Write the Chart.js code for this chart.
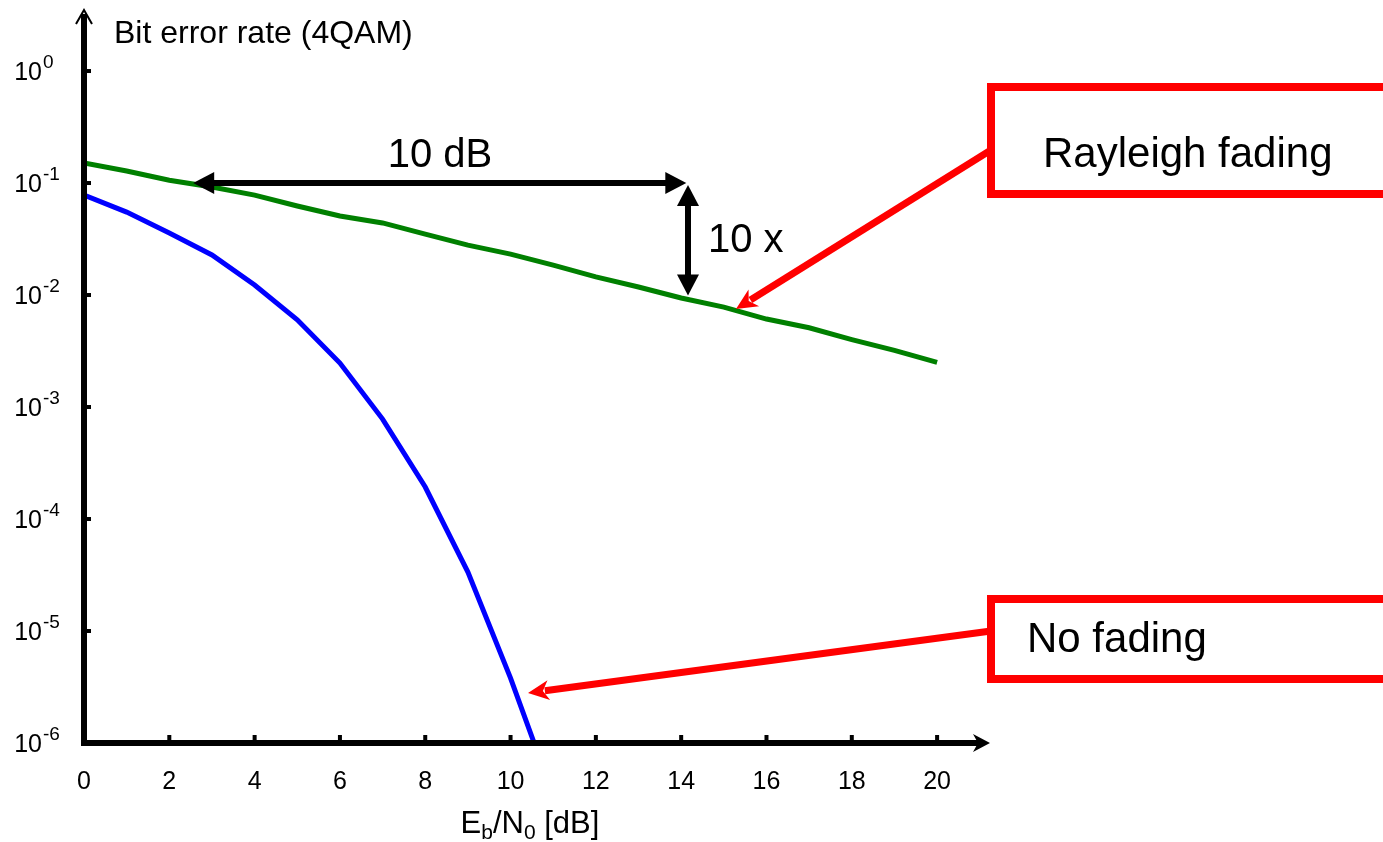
<!DOCTYPE html>
<html>
<head>
<meta charset="utf-8">
<script src="https://cdn.jsdelivr.net/npm/chart.js@4.4.1/dist/chart.umd.min.js"></script>
<style>
    html, body { margin: 0; padding: 0; background: #fff; }
    #wrap { width: 1383px; height: 842px; position: relative; }
</style>
</head>
<body>
<div id="wrap"><canvas id="berChart"></canvas></div>
<script>
// Eb/N0 in dB
const snrDb = [0, 1, 2, 3, 4, 5, 6, 7, 8, 9, 10, 11, 12, 13, 14, 15, 16, 17, 18, 19, 20];
// BER, Rayleigh fading channel
const berRayleigh = [0.151, 0.128, 0.106, 0.092, 0.078, 0.0623, 0.0507, 0.044, 0.035, 0.0279, 0.0232,
    0.0185, 0.0145, 0.0118, 0.0094, 0.0078, 0.0061, 0.0051, 0.0040, 0.0032, 0.0025];
// BER, AWGN only (runs off the bottom of the plot after 10 dB)
const berNoFading = [0.078, 0.055, 0.0358, 0.0228, 0.0123, 0.0060, 0.00247, 7.8e-4, 1.93e-4, 3.36e-5, 3.8e-6, 3.4e-7];

const xTickValues = [0, 2, 4, 6, 8, 10, 12, 14, 16, 18, 20];
const yTickExponents = [0, -1, -2, -3, -4, -5, -6];

const FONT = "'Liberation Sans', Arial, sans-serif";

// annotation placement
const dbArrow = { from: 2.56, to: 14.12, at: 0.1 };        // data coords
const gainArrow = { x: 14.16, from: 0.1, to: 0.0099 };     // data coords
const callouts = [
    { text: 'Rayleigh fading', box: [991, 87, 194], textX: 1043, textY: 167, line: [991, 150], tip: [736, 309] },
    { text: 'No fading', box: [991, 599, 679], textX: 1027, textY: 652, line: [991, 631], tip: [528, 693] }
];

const toPoints = (vals) => vals.map((v, i) => ({ x: snrDb[i], y: v }));

function arrowHead(ctx, tx, ty, angle, len, half, notch) {
    ctx.save();
    ctx.translate(tx, ty);
    ctx.rotate(angle);
    ctx.beginPath();
    ctx.moveTo(0, 0);
    ctx.lineTo(-len, -half);
    ctx.lineTo(-len + notch, 0);
    ctx.lineTo(-len, half);
    ctx.closePath();
    ctx.fill();
    ctx.restore();
}

function doubleArrow(ctx, x1, y1, x2, y2, width) {
    const ang = Math.atan2(y2 - y1, x2 - x1);
    const back = 16;
    ctx.lineWidth = width;
    ctx.beginPath();
    ctx.moveTo(x1 + Math.cos(ang) * back, y1 + Math.sin(ang) * back);
    ctx.lineTo(x2 - Math.cos(ang) * back, y2 - Math.sin(ang) * back);
    ctx.stroke();
    arrowHead(ctx, x2, y2, ang, 21, 11, 0);
    arrowHead(ctx, x1, y1, ang + Math.PI, 21, 11, 0);
}

const decorPlugin = {
    id: 'decor',
    afterDatasetsDraw(chart) {
        const { ctx, chartArea: a, scales: { x, y } } = chart;
        ctx.save();
        ctx.fillStyle = '#000';
        ctx.strokeStyle = '#000';

        // axes with arrows
        ctx.lineWidth = 6;
        ctx.beginPath();
        ctx.moveTo(a.left, a.bottom + 3);
        ctx.lineTo(a.left, a.top + 2);
        ctx.stroke();
        ctx.beginPath();
        ctx.moveTo(a.left - 3, a.bottom);
        ctx.lineTo(a.right - 10, a.bottom);
        ctx.stroke();
        ctx.lineWidth = 2;
        ctx.beginPath();
        ctx.moveTo(a.left - 8, a.top + 12);
        ctx.lineTo(a.left, a.top - 2);
        ctx.lineTo(a.left + 8, a.top + 12);
        ctx.stroke();
        arrowHead(ctx, a.right, a.bottom, 0, 17, 9, 5);

        // tick marks
        xTickValues.forEach(v => {
            if (v === 0) return;
            const px = x.getPixelForValue(v);
            ctx.fillRect(px - 2, a.bottom - 8, 4, 6);
        });
        yTickExponents.forEach(e => {
            const py = y.getPixelForValue(Math.pow(10, e));
            ctx.fillRect(a.left + 2, py - 2, 5, 4);
        });

        // y tick labels as 10^e
        yTickExponents.forEach(e => {
            const py = y.getPixelForValue(Math.pow(10, e));
            ctx.textBaseline = 'alphabetic';
            ctx.font = '25px ' + FONT;
            ctx.textAlign = 'right';
            ctx.fillText('10', 42, py + 9);
            ctx.font = '19px ' + FONT;
            ctx.textAlign = 'left';
            ctx.fillText(String(e), 43, py - 3);
        });

        // axis titles
        ctx.textAlign = 'left';
        ctx.font = '32px ' + FONT;
        ctx.fillText('Bit error rate (4QAM)', 114, 43);

        const parts = [['E', 31, 0], ['b', 21, 6], ['/N', 31, 0], ['0', 21, 6], [' [dB]', 31, 0]];
        let total = 0;
        parts.forEach(p => { ctx.font = p[1] + 'px ' + FONT; total += ctx.measureText(p[0]).width; });
        let cx = 530 - total / 2;
        parts.forEach(p => {
            ctx.font = p[1] + 'px ' + FONT;
            ctx.fillText(p[0], cx, 833 + p[2]);
            cx += ctx.measureText(p[0]).width;
        });

        // 10 dB / 10 x markers
        const hy = y.getPixelForValue(dbArrow.at);
        doubleArrow(ctx, x.getPixelForValue(dbArrow.from), hy, x.getPixelForValue(dbArrow.to), hy, 6);
        const vx = x.getPixelForValue(gainArrow.x);
        doubleArrow(ctx, vx, y.getPixelForValue(gainArrow.from) + 2, vx, y.getPixelForValue(gainArrow.to), 6);
        ctx.font = '40px ' + FONT;
        ctx.textAlign = 'center';
        ctx.fillText('10 dB', 440, 167);
        ctx.textAlign = 'left';
        ctx.fillText('10 x', 708, 252);

        // red callouts
        ctx.strokeStyle = '#ff0000';
        ctx.fillStyle = '#ff0000';
        callouts.forEach(c => {
            ctx.lineWidth = 8;
            ctx.strokeRect(c.box[0], c.box[1], 500, c.box[2] - c.box[1]);
            const ang = Math.atan2(c.tip[1] - c.line[1], c.tip[0] - c.line[0]);
            ctx.lineWidth = 7;
            ctx.beginPath();
            ctx.moveTo(c.line[0], c.line[1]);
            ctx.lineTo(c.tip[0] - Math.cos(ang) * 17, c.tip[1] - Math.sin(ang) * 17);
            ctx.stroke();
            arrowHead(ctx, c.tip[0], c.tip[1], ang, 21, 10, 6);
            ctx.fillStyle = '#000';
            ctx.font = '42px ' + FONT;
            ctx.fillText(c.text, c.textX, c.textY);
            ctx.fillStyle = '#ff0000';
        });
        ctx.restore();
    }
};

new Chart(document.getElementById('berChart'), {
    type: 'line',
    data: {
        datasets: [
            {
                label: 'Rayleigh fading',
                data: toPoints(berRayleigh),
                borderColor: '#008000',
                borderWidth: 5,
                pointRadius: 0,
                tension: 0,
                fill: false
            },
            {
                label: 'No fading',
                data: toPoints(berNoFading),
                borderColor: '#0000ff',
                borderWidth: 5,
                pointRadius: 0,
                tension: 0,
                fill: false
            }
        ]
    },
    options: {
        responsive: true,
        maintainAspectRatio: false,
        animation: false,
        layout: { padding: { left: 0, top: 12, right: 393, bottom: 0 } },
        plugins: {
            legend: { display: false },
            tooltip: { enabled: false }
        },
        scales: {
            x: {
                type: 'linear',
                min: 0,
                max: 21.24,
                afterBuildTicks: (scale) => { scale.ticks = xTickValues.map(v => ({ value: v })); },
                afterFit: (scale) => { scale.height = 99; },
                grid: { display: false, drawTicks: false },
                border: { display: false },
                ticks: {
                    color: '#000',
                    padding: 24,
                    maxRotation: 0,
                    autoSkip: false,
                    font: { family: FONT, size: 25 }
                }
            },
            y: {
                type: 'logarithmic',
                min: 1e-6,
                max: Math.pow(10, 0.527),
                afterBuildTicks: (scale) => { scale.ticks = yTickExponents.map(e => ({ value: Math.pow(10, e) })); },
                afterFit: (scale) => { scale.width = 84; },
                grid: { display: false, drawTicks: false },
                border: { display: false },
                ticks: { display: false }
            }
        }
    },
    plugins: [decorPlugin]
});
</script>
</body>
</html>
